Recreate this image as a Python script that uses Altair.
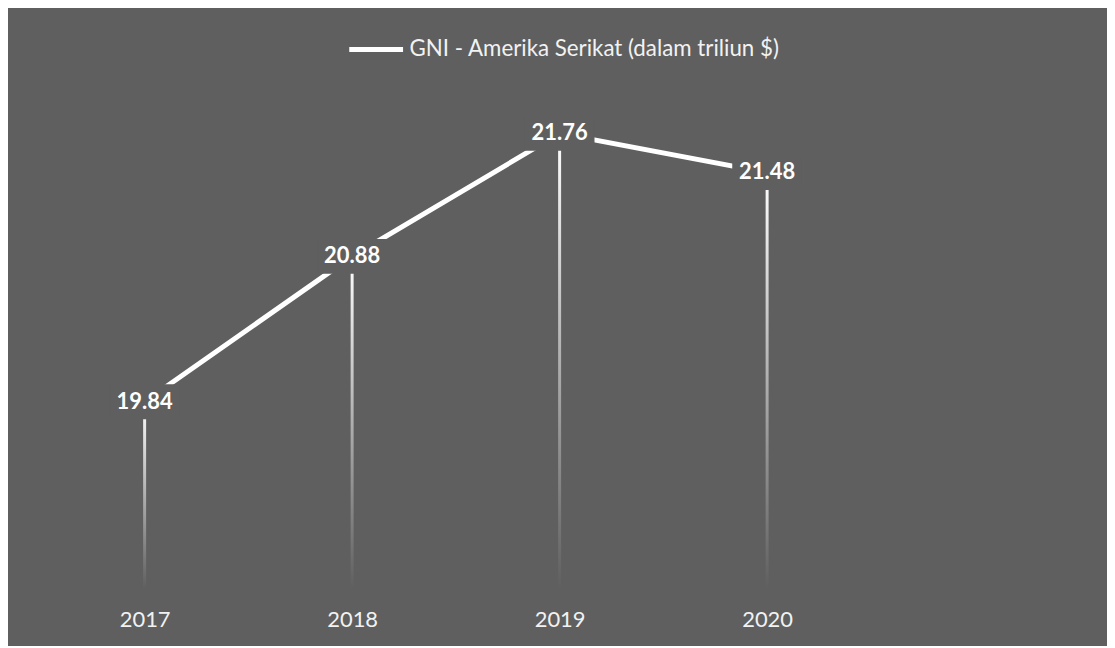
import altair as alt
import pandas as pd

# ---- data ----
years = ["2017", "2018", "2019", "2020"]
gni = [19.84, 20.88, 21.76, 21.48]
series_name = "GNI - Amerika Serikat (dalam triliun $)"

BG = "#5f5f5f"
FONT = "Lato"

df = pd.DataFrame({"year": years, "gni": gni, "series": [series_name] * len(years)})

x = alt.X(
    "year:O",
    scale=alt.Scale(type="point", padding=0.5),
    axis=alt.Axis(
        title=None, labelAngle=0, labelFontSize=22, labelColor="#f2f2f2",
        labelFont=FONT, domain=False, ticks=False, grid=False, labelPadding=21,
    ),
)
y = alt.Y("gni:Q", scale=alt.Scale(domain=[18.5, 22], nice=False, zero=False), axis=None)

base = alt.Chart(df)

drops = base.mark_bar(
    size=3,
    color=alt.Gradient(
        gradient="linear",
        stops=[alt.GradientStop(color="#ffffff", offset=0), alt.GradientStop(color=BG, offset=1)],
        x1=0, x2=0, y1=0, y2=1,
    ),
).encode(x=x, y=y, y2=alt.datum(18.5))

line = base.mark_line(strokeWidth=5, strokeCap="butt").encode(
    x=x,
    y=y,
    color=alt.Color(
        "series:N",
        scale=alt.Scale(range=["#ffffff"]),
        legend=alt.Legend(
            title=None, orient="none", legendX=307, legendY=-80,
            symbolType="stroke", symbolSize=2916, symbolStrokeWidth=5,
            labelFontSize=22.4, labelFont=FONT, labelColor="#f2f2f2",
            labelLimit=0, labelOffset=4, padding=0,
        ),
    ),
)

boxes = base.mark_point(
    shape="M-1,-0.5L1,-0.5L1,0.5L-1,0.5Z", size=4900, filled=True,
    color=BG, opacity=1, strokeWidth=0,
).encode(x=x, y=y)

labels = base.mark_text(
    font=FONT, fontSize=22, fontWeight="bold", color="#ffffff", baseline="middle", align="center"
).encode(x=x, y=y, text=alt.Text("gni:Q", format=".2f"))

chart = alt.layer(drops, line, boxes, labels).properties(
    width=833,
    height=491,
    padding={"left": 33, "top": 91, "right": 237, "bottom": 56},
    autosize=alt.AutoSizeParams(type="none"),
    background=BG,
).configure_view(stroke=None)

chart.save("out.html", embed_options={"renderer": "svg", "actions": False})
